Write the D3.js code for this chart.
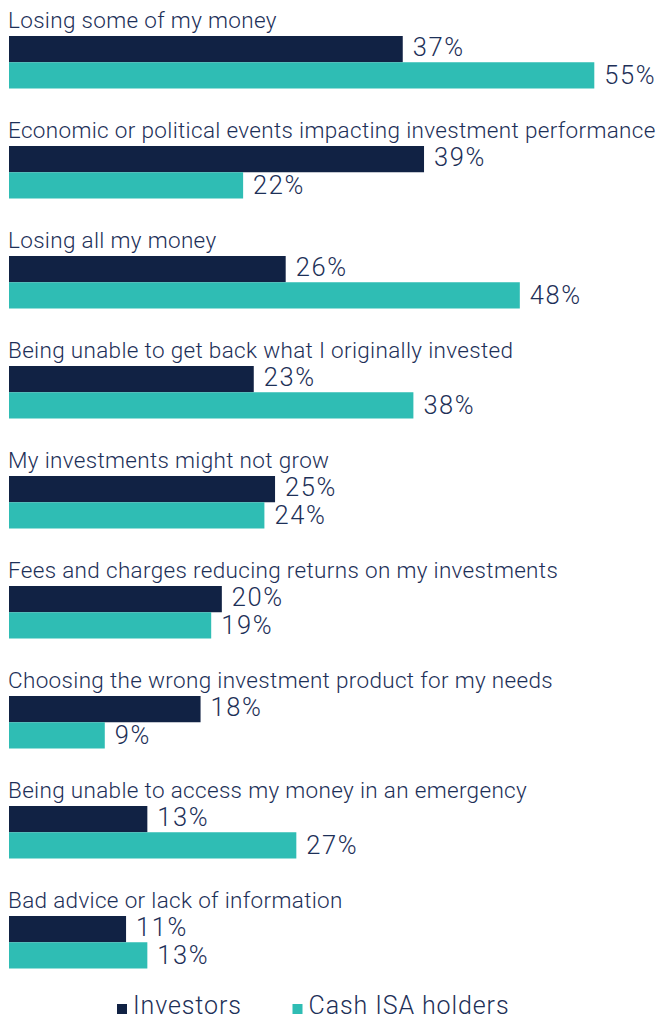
<!DOCTYPE html>
<html>
<head>
<meta charset="utf-8">
<script src="https://cdn.jsdelivr.net/npm/d3@7/dist/d3.min.js"></script>
<style>
  html, body { margin: 0; padding: 0; background: #ffffff; }
  svg { display: block; }
  text { font-family: Roboto, "Noto Sans", sans-serif; font-weight: 300; fill: #1d3058; }
</style>
</head>
<body>
<svg id="chart" width="672" height="1019"></svg>
<script>
// Worries about investing, share of respondents (%)
const categories = [
  "Losing some of my money",
  "Economic or political events impacting investment performance",
  "Losing all my money",
  "Being unable to get back what I originally invested",
  "My investments might not grow",
  "Fees and charges reducing returns on my investments",
  "Choosing the wrong investment product for my needs",
  "Being unable to access my money in an emergency",
  "Bad advice or lack of information"
];
const investors = [37, 39, 26, 23, 25, 20, 18, 13, 11];
const cashIsaHolders = [55, 22, 48, 38, 24, 19, 9, 27, 13];
const seriesNames = ["Investors", "Cash ISA holders"];
const seriesColors = ["#112244", "#2fbdb4"];

const svg = d3.select("#chart");

const x = d3.scaleLinear().domain([0, 55]).range([9, 594.3]);
const groupY = d3.scaleBand().domain(categories).range([8, 998]).paddingInner(0).paddingOuter(0);
const barY = d3.scaleBand().domain([0, 1]).range([28, 80.5]);

const rows = categories.map((c, i) => ({ cat: c, vals: [investors[i], cashIsaHolders[i]] }));

const g = svg.selectAll("g.group").data(rows).join("g")
  .attr("class", "group")
  .attr("transform", d => `translate(0,${groupY(d.cat)})`);

g.append("text")
  .attr("x", 8)
  .attr("y", 19.5)
  .attr("font-size", 22.5)
  .attr("letter-spacing", 0.33)
  .text(d => d.cat);

g.selectAll("rect").data(d => d.vals).join("rect")
  .attr("x", x(0))
  .attr("y", (v, j) => barY(j))
  .attr("width", v => x(v) - x(0))
  .attr("height", barY.bandwidth())
  .attr("fill", (v, j) => seriesColors[j]);

g.selectAll("text.val").data(d => d.vals).join("text")
  .attr("class", "val")
  .attr("x", v => x(v) + 10)
  .attr("y", (v, j) => barY(j) + (j === 0 ? 19.5 : 21.5))
  .attr("font-size", 25.5)
  .attr("letter-spacing", 1.6)
  .text(v => v + "%");

// Legend
const legendX = [117, 292.5];
const legend = svg.selectAll("g.legend").data(seriesNames).join("g")
  .attr("class", "legend")
  .attr("transform", (d, i) => `translate(${legendX[i]},1004)`);
legend.append("rect")
  .attr("width", 10).attr("height", 10)
  .attr("fill", (d, i) => seriesColors[i]);
legend.append("text")
  .attr("x", 16).attr("y", 10)
  .attr("font-size", 25)
  .attr("letter-spacing", 0.9)
  .text(d => d);
</script>
</body>
</html>
